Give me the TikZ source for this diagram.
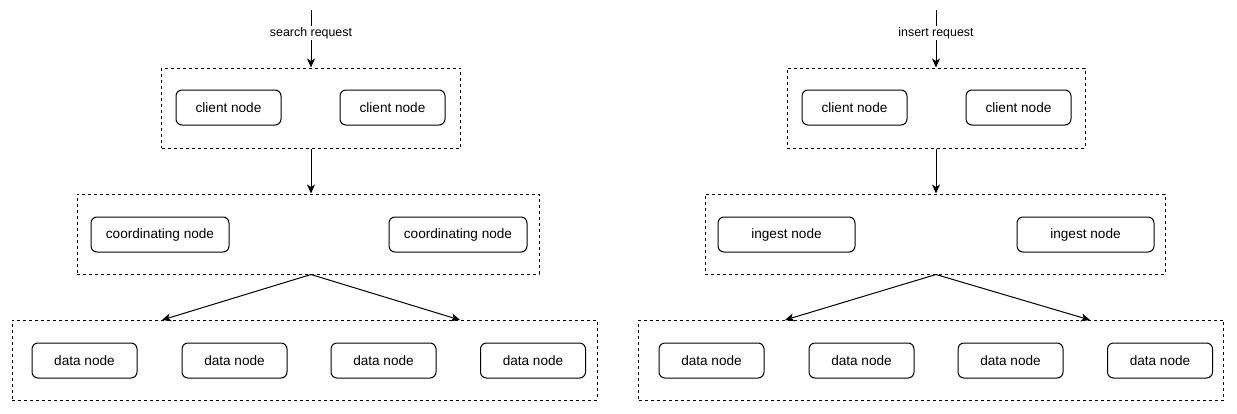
\documentclass[tikz,border=0pt]{standalone}
\usepackage{fontspec}
\setmainfont{Liberation Sans}
\usetikzlibrary{arrows.meta}
\begin{document}
\begin{tikzpicture}[x=1pt,y=-1pt,
  every node/.style={font=\fontsize{13.6}{16}\selectfont},
  group/.style={draw, line width=1pt, dash pattern=on 3pt off 3pt, inner sep=0pt},
  box/.style={draw, line width=1pt, rounded corners=6pt, inner sep=0pt, minimum height=35pt},
  lbl/.style={fill=white, inner sep=1pt, font=\fontsize{12.4}{14}\selectfont},
  arr/.style={line width=1pt, -{Stealth[length=9pt,width=8pt,inset=2.5pt]}},
  ln/.style={line width=1pt}]
\useasboundingbox (0,0) rectangle (1237,413);
% ---------- left ----------
\coordinate (ltop) at (311,10);
\node[group, minimum width=299pt, minimum height=80pt] (lg1) at (311,108) {};
\node[group, minimum width=462pt, minimum height=80pt] (lg2) at (308,234) {};
\node[group, minimum width=585pt, minimum height=80pt] (lg3) at (304.5,360) {};
\node[box, minimum width=105pt] (lc1) at (228.5,107.5) {client node};
\node[box, minimum width=105pt] (lc2) at (392.5,107.5) {client node};
\node[box, minimum width=138pt] (lk1) at (160,234.5) {coordinating node};
\node[box, minimum width=138pt] (lk2) at (458,234.5) {coordinating node};
\node[box, minimum width=105pt] (ld1) at (84.5,360.5) {data node};
\node[box, minimum width=105pt] (ld2) at (234.5,360.5) {data node};
\node[box, minimum width=105pt] (ld3) at (383.5,360.5) {data node};
\node[box, minimum width=105pt] (ld4) at (533,360.5) {data node};
\coordinate (lm1) at (lg1.south |- lg2.north);
\coordinate (lm2) at (lg1.south |- lg2.south);
\coordinate (lt1) at (162,320);
\coordinate (lt2) at (460,320);
\draw[arr] (ltop) -- node[lbl, pos=0.4] {search request} (lg1.north);
\draw[arr] (lg1.south) -- (lm1);
\draw[arr] (lm2) -- (lt1);
\draw[arr] (lm2) -- (lt2);
% ---------- right ----------
\coordinate (rtop) at (936,10);
\node[group, minimum width=298pt, minimum height=80pt] (rg1) at (936,108) {};
\node[group, minimum width=460pt, minimum height=80pt] (rg2) at (935,234) {};
\node[group, minimum width=585pt, minimum height=80pt] (rg3) at (931,360) {};
\node[box, minimum width=105pt] (rc1) at (854.5,107.5) {client node};
\node[box, minimum width=105pt] (rc2) at (1018.5,107.5) {client node};
\node[box, minimum width=137pt] (ri1) at (786.5,234.5) {ingest node};
\node[box, minimum width=137pt] (ri2) at (1085.5,234.5) {ingest node};
\node[box, minimum width=105pt] (rd1) at (711.5,360.5) {data node};
\node[box, minimum width=105pt] (rd2) at (861.5,360.5) {data node};
\node[box, minimum width=105pt] (rd3) at (1010.5,360.5) {data node};
\node[box, minimum width=105pt] (rd4) at (1160,360.5) {data node};
\coordinate (rm1) at (rg1.south |- rg2.north);
\coordinate (rm2) at (rg1.south |- rg2.south);
\coordinate (rt1) at (785,320);
\coordinate (rt2) at (1090,320);
\draw[arr] (rtop) -- node[lbl, pos=0.4] {insert request} (rg1.north);
\draw[arr] (rg1.south) -- (rm1);
\draw[arr] (rm2) -- (rt1);
\draw[arr] (rm2) -- (rt2);
\end{tikzpicture}
\end{document}
